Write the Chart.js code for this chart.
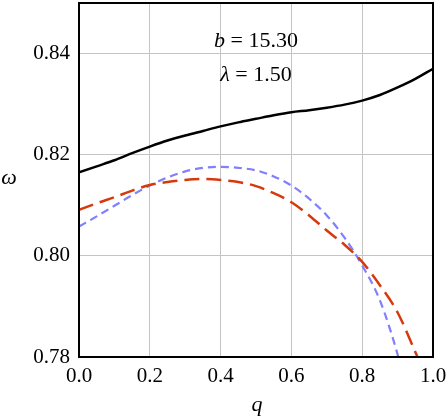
<!DOCTYPE html>
<html>
<head>
<meta charset="utf-8">
<script src="https://cdn.jsdelivr.net/npm/chart.js@4.4.1/dist/chart.umd.min.js"></script>
<style>
  html, body { margin: 0; padding: 0; background: #fff; }
  #wrap { width: 448px; height: 419px; }
</style>
</head>
<body>
<div id="wrap"><canvas id="omegaChart"></canvas></div>
<script>
// q values shared by all three curves
const qValues = [0, 0.05, 0.1, 0.15, 0.2, 0.25, 0.3, 0.35, 0.4, 0.45, 0.5, 0.55, 0.6, 0.65, 0.7, 0.75, 0.8, 0.85, 0.9, 0.95, 1.0];

// omega, solid black
const omegaSolid = [0.8165, 0.8177, 0.8189, 0.8203, 0.8216, 0.8228, 0.8238, 0.8247, 0.8256, 0.8264, 0.8271, 0.8278, 0.8284, 0.8288, 0.8293, 0.8299, 0.8307, 0.8318, 0.8333, 0.8350, 0.8370];
// omega, long red dashes
const omegaRed = [0.8091, 0.8104, 0.8116, 0.8129, 0.8140, 0.8146, 0.8150, 0.8152, 0.8150, 0.8146, 0.8138, 0.8124, 0.8106, 0.8080, 0.8050, 0.8022, 0.7988, 0.7942, 0.7888, 0.7810, 0.7730];
// omega, short blue dashes
const omegaBlue = [0.8058, 0.8078, 0.8099, 0.8120, 0.8139, 0.8155, 0.8167, 0.8174, 0.8176, 0.8174, 0.8169, 0.8157, 0.8139, 0.8113, 0.8080, 0.8036, 0.7981, 0.7912, 0.7805, 0.7665, 0.7500];

const xTicks = [0, 0.2, 0.4, 0.6, 0.8, 1.0];
const yTicks = [0.78, 0.80, 0.82, 0.84];

const serif = '"Liberation Serif", "DejaVu Serif", serif';

function toPoints(ys) {
  return qValues.map((q, i) => ({ x: q, y: ys[i] }));
}

// frame, annotation and axis titles
const extras = {
  id: 'extras',
  afterDraw(chart) {
    const { ctx, chartArea: a } = chart;
    ctx.save();
    ctx.strokeStyle = '#000';
    ctx.lineWidth = 2;
    ctx.strokeRect(a.left, a.top, a.right - a.left, a.bottom - a.top);

    ctx.fillStyle = '#000';
    ctx.textBaseline = 'alphabetic';
    const cx = 256;
    drawEq(ctx, 'b', ' = 15.30', cx, 47);
    drawEq(ctx, 'λ', ' = 1.50', cx, 81);

    ctx.font = 'italic 22px ' + serif;
    ctx.textAlign = 'center';
    ctx.textBaseline = 'middle';
    ctx.fillText('ω', 9, 178);
    ctx.fillText('q', 257, 405);
    ctx.restore();
  }
};

function drawEq(ctx, sym, rest, cx, y) {
  ctx.font = 'italic 22px ' + serif;
  const w1 = ctx.measureText(sym).width;
  ctx.font = '22px ' + serif;
  const w2 = ctx.measureText(rest).width;
  let x = cx - (w1 + w2) / 2;
  ctx.textAlign = 'left';
  ctx.font = 'italic 22px ' + serif;
  ctx.fillText(sym, x, y);
  ctx.font = '22px ' + serif;
  ctx.fillText(rest, x + w1, y);
}

function noPad(s) {
  s.paddingLeft = 0;
  s.paddingRight = 0;
  s.paddingTop = 0;
  s.paddingBottom = 0;
}

const ctx = document.getElementById('omegaChart').getContext('2d');
const omegaChart = new Chart(ctx, {
  type: 'line',
  data: {
    datasets: [
      {
        label: 'solid',
        data: toPoints(omegaSolid),
        borderColor: '#000000',
        borderWidth: 2.5,
        pointRadius: 0,
        cubicInterpolationMode: 'monotone'
      },
      {
        label: 'red',
        data: toPoints(omegaRed),
        borderColor: '#d63a0c',
        borderWidth: 2.5,
        borderDash: [15, 7],
        pointRadius: 0,
        cubicInterpolationMode: 'monotone'
      },
      {
        label: 'blue',
        data: toPoints(omegaBlue),
        borderColor: '#7f7fff',
        borderWidth: 2.2,
        borderDash: [8, 5],
        pointRadius: 0,
        cubicInterpolationMode: 'monotone'
      }
    ]
  },
  options: {
    responsive: true,
    maintainAspectRatio: false,
    animation: false,
    layout: { padding: { top: 3, right: 15, left: 0, bottom: 0 } },
    plugins: { legend: { display: false }, tooltip: { enabled: false } },
    scales: {
      x: {
        type: 'linear',
        min: 0,
        max: 1,
        afterBuildTicks: (s) => { s.ticks = xTicks.map(v => ({ value: v })); },
        afterFit: (s) => { s.height = 62; noPad(s); },
        ticks: {
          color: '#000',
          padding: 7,
          font: { family: serif, size: 21 },
          callback: (v) => Number(v).toFixed(1),
          maxRotation: 0
        },
        grid: { color: '#c4c4c4', lineWidth: 1, drawTicks: false },
        border: { display: false }
      },
      y: {
        type: 'linear',
        min: 0.78,
        max: 0.85,
        afterBuildTicks: (s) => { s.ticks = yTicks.map(v => ({ value: v })); },
        afterFit: (s) => { s.width = 79; noPad(s); },
        ticks: {
          color: '#000',
          padding: 9,
          font: { family: serif, size: 21 },
          callback: (v) => Number(v).toFixed(2)
        },
        grid: { color: '#c4c4c4', lineWidth: 1, drawTicks: false },
        border: { display: false }
      }
    }
  },
  plugins: [extras]
});
</script>
</body>
</html>
